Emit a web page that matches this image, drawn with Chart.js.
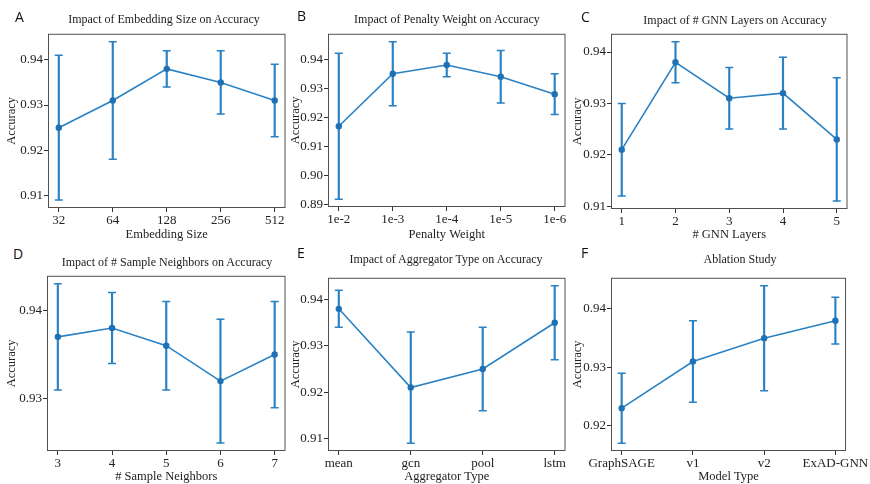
<!DOCTYPE html>
<html lang="en">
    <head>
        <title> Accuracy panels </title>
        <script src="https://cdn.jsdelivr.net/npm/chart.js@4.4.1/dist/chart.umd.min.js"></script>
        <style>
            body { margin: 0; background: #fff; }
            #page { position: relative; width: 870px; height: 484px; overflow: hidden; }
            canvas { position: absolute; }
            .ttl { position: absolute; font-family: 'Liberation Serif', Tinos, 'Nimbus Roman', 'DejaVu Serif', serif; font-size: 12px; color: #222; white-space: nowrap; line-height: 1; transform: translate(-50%, -50%); }
            .lbl { position: absolute; font-family: 'Open Sans', 'DejaVu Sans', sans-serif; font-size: 14px; color: #111; line-height: 1; }
        </style>
    </head>

    <body>
        <div id="page"></div>

        <script>

            // A - embedding size
            const embedLabels = ['32', '64', '128', '256', '512'];
            const embedAcc    = [0.925, 0.931, 0.938, 0.935, 0.931];
            const embedErr    = [0.016, 0.013, 0.004, 0.007, 0.008];

            // B - penalty weight
            const penaltyLabels = ['1e-2', '1e-3', '1e-4', '1e-5', '1e-6'];
            const penaltyAcc    = [0.917, 0.935, 0.938, 0.934, 0.928];
            const penaltyErr    = [0.025, 0.011, 0.004, 0.009, 0.007];

            // C - gnn layers
            const layerLabels = ['1', '2', '3', '4', '5'];
            const layerAcc    = [0.921, 0.938, 0.931, 0.932, 0.923];
            const layerErr    = [0.009, 0.004, 0.006, 0.007, 0.012];

            // D - sample neighbors
            const neighborLabels = ['3', '4', '5', '6', '7'];
            const neighborAcc    = [0.937, 0.938, 0.936, 0.932, 0.935];
            const neighborErr    = [0.006, 0.004, 0.005, 0.007, 0.006];

            // E - aggregator type
            const aggLabels = ['mean', 'gcn', 'pool', 'lstm'];
            const aggAcc    = [0.938, 0.921, 0.925, 0.935];
            const aggErr    = [0.004, 0.012, 0.009, 0.008];

            // F - ablation
            const modelLabels = ['GraphSAGE', 'v1', 'v2', 'ExAD-GNN'];
            const modelAcc    = [0.923, 0.931, 0.935, 0.938];
            const modelErr    = [0.006, 0.007, 0.009, 0.004];

            const BLUE = '#2a82c4';
            const DOT  = '#1f70b4';
            const SERIF = "'Liberation Serif', Tinos, 'Nimbus Roman', 'DejaVu Serif', serif";

            const panels = [
                { letter: 'A', title: 'Impact of Embedding Size on Accuracy', xTitle: 'Embedding Size',
                  labels: embedLabels, acc: embedAcc, err: embedErr,
                  canvasLeft: 0, l: 48, t: 29, r: 287, b: 208, bottom: 242, padR: 4,
                  letterPos: [15, 10], titlePos: [164, 19] },
                { letter: 'B', title: 'Impact of Penalty Weight on Accuracy', xTitle: 'Penalty Weight',
                  labels: penaltyLabels, acc: penaltyAcc, err: penaltyErr,
                  canvasLeft: 284, l: 328, t: 29, r: 567, b: 207, bottom: 242, padR: 4,
                  letterPos: [297, 9], titlePos: [447, 19] },
                { letter: 'C', title: 'Impact of # GNN Layers on Accuracy', xTitle: '# GNN Layers',
                  labels: layerLabels, acc: layerAcc, err: layerErr,
                  canvasLeft: 566, l: 611, t: 29, r: 849, b: 209, bottom: 242, padR: 4,
                  letterPos: [581, 10], titlePos: [735, 20] },
                { letter: 'D', title: 'Impact of # Sample Neighbors on Accuracy', xTitle: '# Sample Neighbors',
                  labels: neighborLabels, acc: neighborAcc, err: neighborErr,
                  canvasLeft: 0, l: 47, t: 271, r: 287, b: 451, bottom: 484, padR: 4,
                  letterPos: [13, 247], titlePos: [167, 262] },
                { letter: 'E', title: 'Impact of Aggregator Type on Accuracy', xTitle: 'Aggregator Type',
                  labels: aggLabels, acc: aggAcc, err: aggErr,
                  canvasLeft: 284, l: 328, t: 273, r: 567, b: 451, bottom: 484, padR: 4,
                  letterPos: [297, 246], titlePos: [446, 259] },
                { letter: 'F', title: 'Ablation Study', xTitle: 'Model Type',
                  labels: modelLabels, acc: modelAcc, err: modelErr,
                  canvasLeft: 566, l: 611, t: 273, r: 853, b: 451, bottom: 484, padR: 17,
                  letterPos: [581, 246], titlePos: [740, 259] }
            ];

            // box around the plot area, like matplotlib spines
            const framePlugin = {
                id: 'frame',
                beforeDatasetsDraw (chart) {
                    const { ctx, chartArea } = chart;
                    ctx.save ();
                    ctx.strokeStyle = '#505050';
                    ctx.lineWidth = 1;
                    ctx.strokeRect (chartArea.left + 0.5, chartArea.top + 0.5,
                        chartArea.right - chartArea.left - 1, chartArea.bottom - chartArea.top - 1);
                    ctx.restore ();
                }
            };

            const page = document.getElementById ('page');

            panels.forEach (p => {

                const canvas = document.createElement ('canvas');
                const width = p.r + p.padR - p.canvasLeft;
                const top = p.t - 4;
                const height = p.bottom - top;
                canvas.width = width;
                canvas.height = height;
                canvas.style.left = p.canvasLeft + 'px';
                canvas.style.top = top + 'px';
                canvas.style.width = width + 'px';
                canvas.style.height = height + 'px';
                page.appendChild (canvas);

                const lbl = document.createElement ('div');
                lbl.className = 'lbl';
                lbl.textContent = p.letter;
                lbl.style.left = p.letterPos[0] + 'px';
                lbl.style.top = p.letterPos[1] + 'px';
                page.appendChild (lbl);

                const ttl = document.createElement ('div');
                ttl.className = 'ttl';
                ttl.textContent = p.title;
                ttl.style.left = p.titlePos[0] + 'px';
                ttl.style.top = p.titlePos[1] + 'px';
                page.appendChild (ttl);

                const lows  = p.acc.map ((v, i) => v - p.err[i]);
                const highs = p.acc.map ((v, i) => v + p.err[i]);
                const yLo = Math.min (...lows), yHi = Math.max (...highs);
                const yPad = (yHi - yLo) * 0.05;
                const n = p.labels.length;
                const xPad = (n - 1) * 0.05;

                const yW = p.l - p.canvasLeft;
                const xH = p.bottom - p.b;

                new Chart (canvas, {
                    type: 'bar',
                    data: {
                        datasets: [
                            {
                                type: 'line',
                                data: p.acc.map ((v, i) => ({ x: i, y: v })),
                                borderColor: BLUE,
                                borderWidth: 1.6,
                                pointRadius: 3.2,
                                pointBackgroundColor: DOT,
                                pointBorderColor: DOT,
                                pointBorderWidth: 0,
                                order: 0
                            },
                            {
                                type: 'line',
                                data: lows.map ((v, i) => ({ x: i, y: v })),
                                showLine: false,
                                pointStyle: 'line',
                                pointRadius: 4,
                                pointBorderColor: BLUE,
                                pointBorderWidth: 1.5,
                                order: 1
                            },
                            {
                                type: 'line',
                                data: highs.map ((v, i) => ({ x: i, y: v })),
                                showLine: false,
                                pointStyle: 'line',
                                pointRadius: 4,
                                pointBorderColor: BLUE,
                                pointBorderWidth: 1.5,
                                order: 1
                            },
                            {
                                type: 'bar',
                                data: lows.map ((v, i) => ({ x: i, y: [v, highs[i]] })),
                                backgroundColor: BLUE,
                                borderWidth: 0,
                                barThickness: 1.5,
                                order: 2
                            }
                        ]
                    },
                    options: {
                        responsive: false,
                        animation: false,
                        devicePixelRatio: 1,
                        layout: { padding: { top: 4, right: p.padR, left: 0, bottom: 0 } },
                        plugins: { legend: { display: false }, tooltip: { enabled: false } },
                        scales: {
                            x: {
                                type: 'linear',
                                offset: false,
                                min: -xPad,
                                max: n - 1 + xPad,
                                afterFit: s => { s.height = xH; },
                                afterBuildTicks: s => { s.ticks = p.labels.map ((_, i) => ({ value: i })); },
                                ticks: {
                                    callback: v => p.labels[v],
                                    autoSkip: false,
                                    maxRotation: 0,
                                    padding: 1,
                                    color: '#222',
                                    font: { family: SERIF, size: 13 }
                                },
                                grid: { offset: false, drawOnChartArea: false, drawTicks: true, tickLength: 4, color: '#333' },
                                border: { display: false },
                                title: {
                                    display: true,
                                    text: p.xTitle,
                                    color: '#222',
                                    padding: { top: 0, bottom: 0 },
                                    font: { family: SERIF, size: 12.5 }
                                }
                            },
                            y: {
                                type: 'linear',
                                min: yLo - yPad,
                                max: yHi + yPad,
                                afterFit: s => { s.width = yW; },
                                ticks: {
                                    stepSize: 0.01,
                                    includeBounds: false,
                                    callback: v => v.toFixed (2),
                                    padding: 1,
                                    color: '#222',
                                    font: { family: SERIF, size: 13 }
                                },
                                grid: { drawOnChartArea: false, drawTicks: true, tickLength: 4, color: '#333' },
                                border: { display: false },
                                title: {
                                    display: true,
                                    text: 'Accuracy',
                                    color: '#222',
                                    padding: { top: 4, bottom: 0 },
                                    font: { family: SERIF, size: 12.5 }
                                }
                            }
                        }
                    },
                    plugins: [framePlugin]
                });
            });

        </script>
    </body>
</html>
